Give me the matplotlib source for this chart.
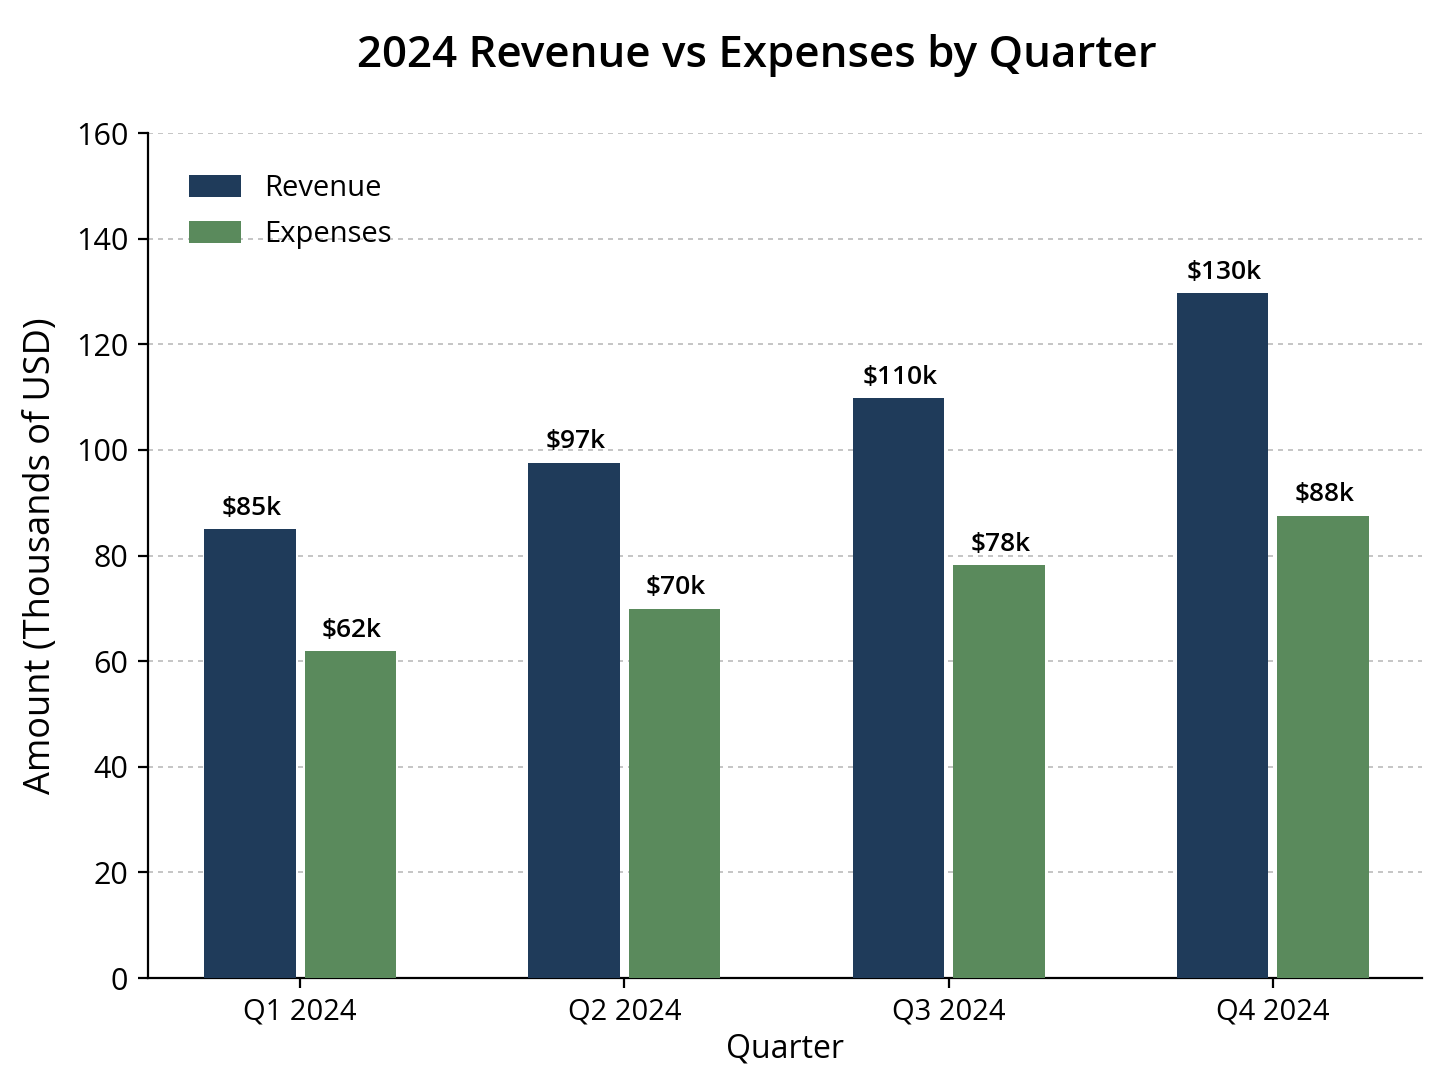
import matplotlib
matplotlib.use("Agg")
import matplotlib.pyplot as plt
import numpy as np

quarters = ["Q1 2024", "Q2 2024", "Q3 2024", "Q4 2024"]
revenue = [85, 97.6, 109.8, 129.7]
expenses = [61.9, 69.9, 78.2, 87.5]
revenue_labels = ["$85k", "$97k", "$110k", "$130k"]
expense_labels = ["$62k", "$70k", "$78k", "$88k"]
yticks = [0, 20, 40, 60, 80, 100, 120, 140, 160]

plt.rcParams['font.family'] = ['Open Sans', 'DejaVu Sans']

fig = plt.figure(figsize=(7.24, 5.43), dpi=200)
ax = fig.add_axes([0.102, 0.0994, 0.880, 0.7781])

x = np.arange(len(quarters))
w = 0.282
off = 0.155
c_rev = "#1f3b5a"
c_exp = "#5a8a5c"
ax.bar(x - off, revenue, w, color=c_rev, label="Revenue", zorder=3)
ax.bar(x + off, expenses, w, color=c_exp, label="Expenses", zorder=3)

for xi, v, s in zip(x - off, revenue, revenue_labels):
    ax.text(xi + 0.005, v + 1.6, s, ha="center", va="bottom", fontsize=9.5, fontweight="semibold")
for xi, v, s in zip(x + off, expenses, expense_labels):
    ax.text(xi + 0.005, v + 1.6, s, ha="center", va="bottom", fontsize=9.5, fontweight="semibold")

ax.set_xlim(-0.47, 3.46)
ax.set_ylim(0, 160)
ax.set_yticks(yticks)
ax.set_xticks(x)
ax.set_xticklabels(quarters, fontsize=10.5)
ax.tick_params(axis="y", labelsize=11)
ax.yaxis.grid(True, linestyle=(0, (3, 3)), color="#bbbbbb", linewidth=0.6, zorder=0)
ax.set_axisbelow(True)
for s in ["top", "right"]:
    ax.spines[s].set_visible(False)
ax.set_xlabel("Quarter", fontsize=11.5, labelpad=2)
ax.set_ylabel("Amount (Thousands of USD)", fontsize=13, labelpad=6)
fig.text(0.523, 0.949, "2024 Revenue vs Expenses by Quarter", fontsize=15.8,
         fontweight="semibold", ha="center", va="center")

ax.legend(loc="upper left", frameon=False, fontsize=10.5, handlelength=1.8,
          handleheight=0.8, borderaxespad=1.0, labelspacing=0.6, handletextpad=0.8)

fig.savefig("out.png", dpi=200)
